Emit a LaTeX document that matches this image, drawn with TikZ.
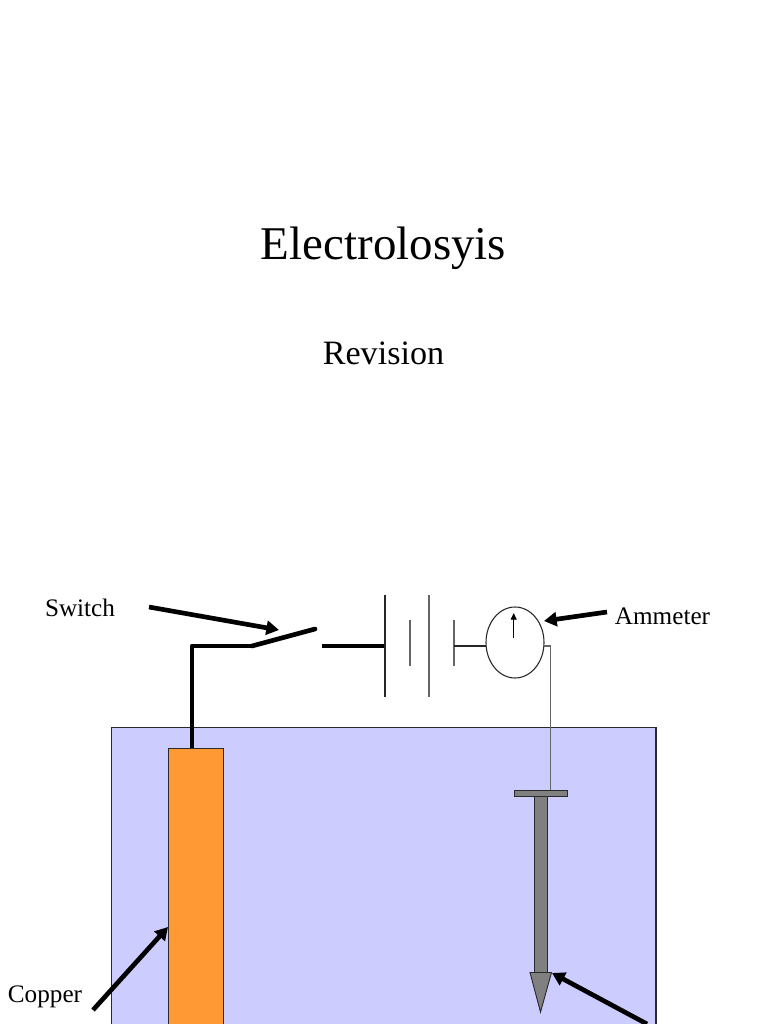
\documentclass[tikz,border=0pt]{standalone}
\usepackage{fontspec}
\setmainfont{Liberation Serif}
\usetikzlibrary{arrows.meta,shapes.geometric}
\definecolor{tankblue}{HTML}{CCCCFF}
\definecolor{copperor}{HTML}{FF9933}
\definecolor{nailgrey}{HTML}{808080}
\definecolor{edgegrey}{HTML}{2A2A2A}
\tikzset{
  x=0.75pt,y=-0.75pt,
  lbl/.style={inner sep=0pt,anchor=base,text=black},
  heavy/.style={line width=3.5pt,draw=black,line cap=butt},
  thin wire/.style={line width=0.9pt,draw=black!85},
  grey wire/.style={line width=0.9pt,draw=black!60},
  pointer/.style={line width=3.5pt,draw=black,-{Triangle[length=9.5pt,width=10.5pt]}},
}
\begin{document}
\begin{tikzpicture}
\clip (0,0) rectangle (768,1024);
\fill[white] (0,0) rectangle (768,1024);
% titles
\node[lbl,font=\fontsize{35.2}{40}\selectfont] (title) at (383.5,259) {Electrolosyis};
\node[lbl,font=\fontsize{25.6}{30}\selectfont] (sub) at (383.5,364) {Revision};
% tank and electrodes
\node[draw=edgegrey,line width=0.9pt,fill=tankblue,anchor=north west,inner sep=0pt,minimum width=408.5pt,minimum height=260pt] (tank) at (110.8,726.8) {};
\node[draw=edgegrey,line width=0.9pt,fill=copperor,anchor=north west,inner sep=0pt,minimum width=41.5pt,minimum height=240pt] (copper) at (167.8,747.8) {};
% nail
\coordinate (wireB) at (550.7,790);
\node[draw=edgegrey,line width=0.8pt,fill=nailgrey,anchor=north west,inner sep=0pt,minimum width=40.2pt,minimum height=4.5pt] (head) at (513.6,790) {};
\node[draw=edgegrey,line width=0.8pt,fill=nailgrey,anchor=north west,inner sep=0pt,minimum width=10.2pt,minimum height=132pt] (shank) at (533.8,796) {};
\draw[draw=edgegrey,line width=0.7pt,fill=nailgrey] (530,972.5) -- (551.5,972.5) -- (540.5,1012) -- cycle;
% circuit coordinates
\coordinate (cuTop) at (192,748);
\coordinate (corner) at (192,646);
\coordinate (swA) at (252,646);
\coordinate (swB) at (315,629);
\coordinate (swC) at (322,646);
\coordinate (b1) at (385,646);
\coordinate (b4) at (454,646);
\coordinate (b1t) at (385,595); \coordinate (b1b) at (385,697);
\coordinate (b2t) at (410,620); \coordinate (b2b) at (410,666);
\coordinate (b3t) at (429,595); \coordinate (b3b) at (429,697);
\coordinate (b4t) at (454,620); \coordinate (b4b) at (454,666);
\draw[heavy,line join=round] (cuTop) -- (corner) -- (swA);
\draw[heavy,line cap=round] (swA) -- (swB);
\draw[heavy] (swC) -- (b1);
\draw[thin wire] (b1t) -- (b1b);
\draw[grey wire] (b2t) -- (b2b);
\draw[grey wire] (b3t) -- (b3b);
\draw[grey wire] (b4t) -- (b4b);
% ammeter
\node[draw=black!85,line width=0.8pt,ellipse,inner sep=0pt,minimum width=43.5pt,minimum height=53.25pt] (am) at (515,642.5) {};
\coordinate (amL) at (486.3,646);
\coordinate (amR) at (543.7,646);
\coordinate (elbow) at (550.7,646);
\draw[thin wire] (b4) -- (amL);
\draw[grey wire] (amR) -- (elbow) -- (wireB);
\coordinate (ndA) at (513.7,638);
\coordinate (ndB) at (513.7,613);
\draw[line width=0.8pt,draw=black,-{Triangle[length=5pt,width=4.5pt]}] (ndA) -- (ndB);
% labels
\node[lbl,font=\fontsize{18.9}{22}\selectfont] (swl) at (80,616) {Switch};
\node[lbl,font=\fontsize{18.9}{22}\selectfont] (aml) at (662.5,624) {Ammeter};
\node[lbl,font=\fontsize{18.9}{22}\selectfont] (cul) at (45,1002) {Copper};
% pointers
\coordinate (p1a) at (149,607); \coordinate (p1b) at (279,630);
\coordinate (p2a) at (607,612); \coordinate (p2b) at (544,621);
\coordinate (p3a) at (93,1010); \coordinate (p3b) at (168,927);
\coordinate (p4a) at (647,1024); \coordinate (p4b) at (552,973);
\draw[pointer] (p1a) -- (p1b);
\draw[pointer] (p2a) -- (p2b);
\draw[pointer] (p3a) -- (p3b);
\draw[pointer] (p4a) -- (p4b);
\end{tikzpicture}
\end{document}
